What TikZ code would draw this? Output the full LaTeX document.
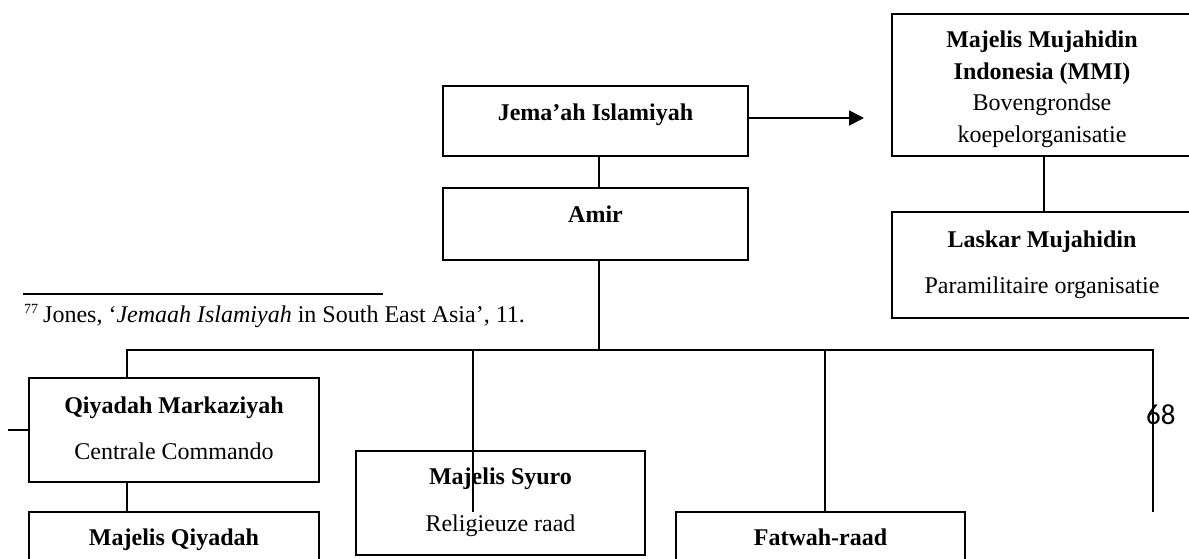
\documentclass[tikz,border=0pt]{standalone}
\usepackage{fontspec}
\setmainfont{Liberation Serif}
\newfontfamily\pagefont{Carlito}
\usetikzlibrary{arrows.meta}
\begin{document}
\begin{tikzpicture}[x=1pt,y=-1pt,
  box/.style={draw, line width=1.9pt, rectangle, inner sep=0pt},
  lbl/.style={anchor=base, inner sep=0pt, font=\fontsize{24}{28}\selectfont},
  blbl/.style={anchor=base, inner sep=0pt, font=\fontsize{24}{28}\selectfont\bfseries},
  conn/.style={line width=1.9pt},
]
\useasboundingbox (0,0) rectangle (1189,558);
\fill[white] (0,0) rectangle (1189,558);
\clip (0,0) rectangle (1189,558);

% boxes
\node[box, minimum width=305pt, minimum height=70pt] (ji) at (595.5,121) {};
\node[box, minimum width=305pt, minimum height=72pt] (amir) at (595.5,224) {};
\node[box, minimum width=300pt, minimum height=142pt] (mmi) at (1042,85) {};
\node[box, minimum width=300pt, minimum height=106pt] (laskar) at (1042,265) {};
\node[box, minimum width=290pt, minimum height=104pt] (qm) at (174,430) {};
\node[box, minimum width=290pt, minimum height=108pt] (mq) at (174,566) {};
\node[box, minimum width=289pt, minimum height=104pt] (syuro) at (500.5,503) {};
\node[box, minimum width=289pt, minimum height=108pt] (fatwah) at (820.5,566) {};

% texts
\node[blbl] (jiT) at (595.5,120.5) {Jema’ah Islamiyah};
\node[blbl] (amirT) at (595.5,222.5) {Amir};
\node[blbl] (mmiT1) at (1042,47.5) {Majelis Mujahidin};
\node[blbl] (mmiT2) at (1042,79) {Indonesia (MMI)};
\node[lbl] (mmiT3) at (1042,110) {Bovengrondse};
\node[lbl] (mmiT4) at (1042,142) {koepelorganisatie};
\node[blbl] (lasT1) at (1042,247) {Laskar Mujahidin};
\node[lbl] (lasT2) at (1042,293) {Paramilitaire organisatie};
\node[blbl] (qmT1) at (174,413) {Qiyadah Markaziyah};
\node[lbl] (qmT2) at (174,459) {Centrale Commando};
\node[blbl] (mqT) at (174,545) {Majelis Qiyadah};
\node[blbl] (syT1) at (500.5,484) {Majelis Syuro};
\node[lbl] (syT2) at (500.5,531) {Religieuze raad};
\node[blbl] (fwT) at (820.5,545) {Fatwah-raad};

% footnote
\coordinate (fnL) at (23,294);
\coordinate (fnR) at (383,294);
\draw[line width=1.7pt] (fnL) -- (fnR);
\node[anchor=base west, inner sep=0pt, font=\fontsize{24}{28}\selectfont] (fn) at (24,322)
  {\raisebox{9pt}{\fontsize{14}{14}\selectfont 77}\hspace{5pt}Jones, ‘\textit{Jemaah Islamiyah} in South East Asia’, 11.};

% page number
\node[anchor=base west, inner sep=0pt, font=\pagefont\fontsize{29}{32}\selectfont] (pg) at (1146,424) {68};

% connectors
\coordinate (arrEnd) at (864,118);
\draw[conn, -{Triangle[length=15pt,width=15pt]}] (ji.east |- arrEnd) -- (arrEnd);
\coordinate (cx) at (599,0);
\draw[conn] (ji.south -| cx) -- (amir.north -| cx);
\coordinate (busL) at (127,350);
\coordinate (busR) at (1153,350);
\coordinate (busM) at (599,350);
\draw[conn] (amir.south -| cx) -- (busM);
\coordinate (rEnd) at (1153,512);
\draw[conn] (qm.north -| busL) -- (busL) -- (busR) -- (rEnd);
\coordinate (syTop) at (473,350);
\coordinate (syEnd) at (473,512);
\draw[conn] (syTop) -- (syEnd);
\coordinate (fwTop) at (825,350);
\draw[conn] (fwTop) -- (fatwah.north -| fwTop);
\draw[conn] (qm.south -| busL) -- (mq.north -| busL);
\coordinate (stub) at (8,430);
\draw[conn] (stub) -- (qm.west);
\coordinate (mlx) at (1044,0);
\draw[conn] (mmi.south -| mlx) -- (laskar.north -| mlx);
\end{tikzpicture}
\end{document}
